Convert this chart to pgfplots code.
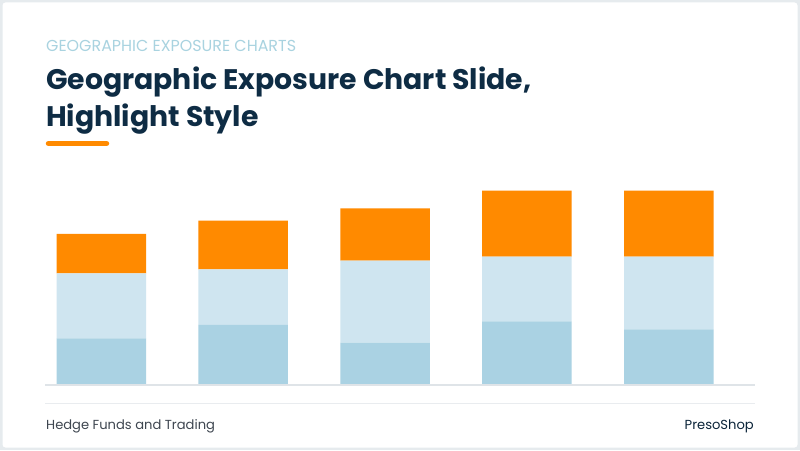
\documentclass[border=0pt]{standalone}
\usepackage{pgfplots}
\pgfplotsset{compat=1.18}
\usepackage{fontspec}
\setmainfont{Poppins}
\definecolor{frame}{HTML}{E6EBEE}
\definecolor{navy}{HTML}{0E2C44}
\definecolor{sub}{HTML}{A9D3E0}
\definecolor{darkb}{HTML}{AAD2E3}
\definecolor{lightb}{HTML}{CFE5F0}
\definecolor{orng}{HTML}{FF8A00}
\definecolor{rule}{HTML}{DFE4E8}
\definecolor{foot}{HTML}{3E4650}
\pgfplotstableread{
x dark light orange
0 46.4 65.0 39.3
1 59.7 55.7 48.6
2 42.0 82.0 52.4
3 63.4 64.6 66.0
4 55.4 72.6 66.0
}\data
\begin{document}
\begin{tikzpicture}[x=1pt,y=1pt]
\useasboundingbox (0,0) rectangle (800,450);
\fill[frame] (0,0) rectangle (800,450);
\fill[white,rounded corners=3pt] (2.5,2.5) rectangle (797.5,447.5);
\begin{axis}[
  at={(45pt,65.3pt)}, anchor=south west,
  scale only axis, width=710pt, height=200pt,
  xmin=-0.397, xmax=4.607, ymin=0, ymax=200,
  axis lines=none, ticks=none,
  ybar stacked, bar width=89.5pt,
  clip=false,
]
\addplot[fill=darkb, draw=none] table[x=x,y=dark] {\data};
\addplot[fill=lightb, draw=none] table[x=x,y=light] {\data};
\addplot[fill=orng, draw=none] table[x=x,y=orange] {\data};
\end{axis}
\draw[rule, line width=1.8pt] (45,65.3) -- (755,65.3);
\draw[rule!70, line width=1.5pt] (45,46.7) -- (755,46.7);
\node[anchor=base west, inner sep=0, text=sub, font=\fontsize{15.9}{18}\selectfont] at (46,398) {GEOGRAPHIC EXPOSURE CHARTS};
\node[anchor=base west, inner sep=0, text=navy, font=\fontsize{28.3}{34}\selectfont\bfseries] at (46,360) {Geographic Exposure Chart Slide,};
\node[anchor=base west, inner sep=0, text=navy, font=\fontsize{28.3}{34}\selectfont\bfseries] at (46,323) {Highlight Style};
\draw[orng, line width=5.5pt, line cap=round] (48.5,306.5) -- (106.5,306.5);
\node[anchor=base west, inner sep=0, text=foot, font=\fontsize{13.1}{15}\selectfont] at (46,20.7) {Hedge Funds and Trading};
\node[anchor=base east, inner sep=0, text=navy!85!black, font=\fontsize{13.1}{15}\selectfont] at (754,20.7) {PresoShop};
\end{tikzpicture}
\end{document}
